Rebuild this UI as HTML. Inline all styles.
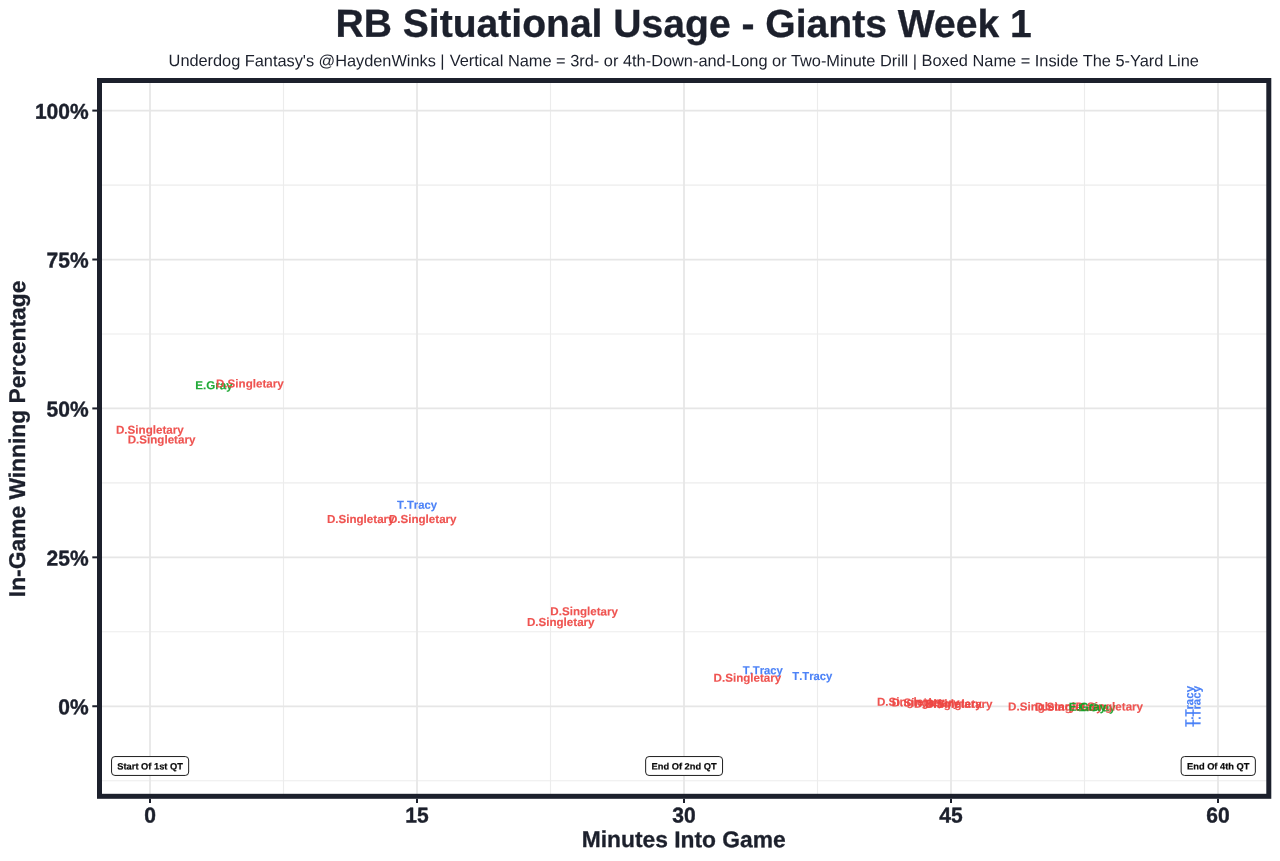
<!DOCTYPE html>
<html lang="en">
<head>
<meta charset="utf-8">
<title>RB Situational Usage - Giants Week 1</title>
<style>
html,body{margin:0;padding:0;background:#ffffff;}
body{width:1280px;height:861px;overflow:hidden;font-family:"Liberation Sans",Arial,Helvetica,sans-serif;}
svg{display:block;}
text{white-space:pre;text-rendering:geometricPrecision;}
</style>
</head>
<body>
<svg width="1280" height="861" viewBox="0 0 1280 861" font-family="'Liberation Sans', Arial, Helvetica, sans-serif">
<rect x="0" y="0" width="1280" height="861" fill="#ffffff"/>
<g stroke="#ececec" stroke-width="1.15"><line x1="283.50" x2="283.50" y1="80.5" y2="796.3"/><line x1="550.50" x2="550.50" y1="80.5" y2="796.3"/><line x1="817.50" x2="817.50" y1="80.5" y2="796.3"/><line x1="1084.50" x2="1084.50" y1="80.5" y2="796.3"/><line y1="780.71" y2="780.71" x1="99.5" x2="1268.8"/><line y1="631.79" y2="631.79" x1="99.5" x2="1268.8"/><line y1="482.88" y2="482.88" x1="99.5" x2="1268.8"/><line y1="333.97" y2="333.97" x1="99.5" x2="1268.8"/><line y1="185.06" y2="185.06" x1="99.5" x2="1268.8"/></g>
<g stroke="#e6e6e6" stroke-width="1.75"><line x1="150.00" x2="150.00" y1="80.5" y2="796.3"/><line x1="417.00" x2="417.00" y1="80.5" y2="796.3"/><line x1="684.00" x2="684.00" y1="80.5" y2="796.3"/><line x1="951.00" x2="951.00" y1="80.5" y2="796.3"/><line x1="1218.00" x2="1218.00" y1="80.5" y2="796.3"/><line y1="706.25" y2="706.25" x1="99.5" x2="1268.8"/><line y1="557.34" y2="557.34" x1="99.5" x2="1268.8"/><line y1="408.43" y2="408.43" x1="99.5" x2="1268.8"/><line y1="259.51" y2="259.51" x1="99.5" x2="1268.8"/><line y1="110.60" y2="110.60" x1="99.5" x2="1268.8"/></g>
<g font-size="11.6" font-weight="700" fill-opacity="0.93" stroke-opacity="0.93" stroke-width="0.12"><text transform="translate(195.25 389.15) rotate(0.03)" fill="#10a428" stroke="#10a428">E.Gray</text><text transform="translate(216.00 387.55) rotate(0.03)" fill="#ee4744" stroke="#ee4744">D.Singletary</text><text transform="translate(116.00 433.80) rotate(0.03)" fill="#ee4744" stroke="#ee4744">D.Singletary</text><text transform="translate(127.70 443.45) rotate(0.03)" fill="#ee4744" stroke="#ee4744">D.Singletary</text><text transform="translate(396.95 508.65) rotate(0.03) scale(0.972 1.0)" fill="#3f7af6" stroke="#3f7af6" style="font-kerning:none">T.Tracy</text><text transform="translate(326.90 523.05) rotate(0.03)" fill="#ee4744" stroke="#ee4744">D.Singletary</text><text transform="translate(388.90 523.05) rotate(0.03)" fill="#ee4744" stroke="#ee4744">D.Singletary</text><text transform="translate(550.35 615.35) rotate(0.03)" fill="#ee4744" stroke="#ee4744">D.Singletary</text><text transform="translate(526.90 625.95) rotate(0.03)" fill="#ee4744" stroke="#ee4744">D.Singletary</text><text transform="translate(742.75 674.25) rotate(0.03) scale(0.972 1.0)" fill="#3f7af6" stroke="#3f7af6" style="font-kerning:none">T.Tracy</text><text transform="translate(713.60 681.75) rotate(0.03)" fill="#ee4744" stroke="#ee4744">D.Singletary</text><text transform="translate(792.25 680.05) rotate(0.03) scale(0.972 1.0)" fill="#3f7af6" stroke="#3f7af6" style="font-kerning:none">T.Tracy</text><text transform="translate(876.90 705.65) rotate(0.03)" fill="#ee4744" stroke="#ee4744">D.Singletary</text><text transform="translate(891.85 706.45) rotate(0.03)" fill="#ee4744" stroke="#ee4744">D.Singletary</text><text transform="translate(914.10 707.65) rotate(0.03)" fill="#ee4744" stroke="#ee4744">D.Singletary</text><text transform="translate(924.90 707.85) rotate(0.03)" fill="#ee4744" stroke="#ee4744">D.Singletary</text><text transform="translate(1008.10 710.55) rotate(0.03)" fill="#ee4744" stroke="#ee4744">D.Singletary</text><text transform="translate(1035.00 710.75) rotate(0.03)" fill="#ee4744" stroke="#ee4744">D.Singletary</text><text transform="translate(1078.15 711.15) rotate(0.03)" fill="#10a428" stroke="#10a428">E.Gray</text><text transform="translate(1075.40 710.55) rotate(0.03)" fill="#ee4744" stroke="#ee4744">D.Singletary</text><text transform="translate(1068.85 710.85) rotate(0.03)" fill="#10a428" stroke="#10a428">E.Gray</text></g>
<g font-size="11.6" font-weight="700" fill-opacity="0.93" stroke-opacity="0.93" stroke-width="0.12"><text transform="translate(1193.3 706.4) rotate(-89.97) scale(0.99 1.0)" text-anchor="middle" fill="#3f7af6" stroke="#3f7af6" style="font-kerning:none">T.Tracy</text><text transform="translate(1200.5 706.4) rotate(-89.97) scale(0.99 1.0)" text-anchor="middle" fill="#3f7af6" stroke="#3f7af6" style="font-kerning:none">T.Tracy</text></g>
<rect x="111.55" y="756.55" width="77.10" height="18.9" rx="3.4" ry="3.4" fill="#ffffff" stroke="#1e1e1e" stroke-width="1.0"/><text transform="translate(150.10 769.55) rotate(0.03)" text-anchor="middle" font-size="9.3" font-weight="700" fill="#0a0a0a" stroke="#0a0a0a" stroke-width="0.2">Start Of 1st QT</text><rect x="645.65" y="756.55" width="76.90" height="18.9" rx="3.4" ry="3.4" fill="#ffffff" stroke="#1e1e1e" stroke-width="1.0"/><text transform="translate(684.10 769.55) rotate(0.03)" text-anchor="middle" font-size="9.3" font-weight="700" fill="#0a0a0a" stroke="#0a0a0a" stroke-width="0.2">End Of 2nd QT</text><rect x="1181.15" y="756.55" width="74.20" height="18.9" rx="3.4" ry="3.4" fill="#ffffff" stroke="#1e1e1e" stroke-width="1.0"/><text transform="translate(1218.25 769.55) rotate(0.03)" text-anchor="middle" font-size="9.3" font-weight="700" fill="#0a0a0a" stroke="#0a0a0a" stroke-width="0.2">End Of 4th QT</text>
<rect x="99.5" y="80.5" width="1169.3" height="715.8" fill="none" stroke="#1c202c" stroke-width="5"/>
<g stroke="#1c202c" stroke-width="2"><line x1="150.00" x2="150.00" y1="798.8" y2="802.9"/><line x1="417.00" x2="417.00" y1="798.8" y2="802.9"/><line x1="684.00" x2="684.00" y1="798.8" y2="802.9"/><line x1="951.00" x2="951.00" y1="798.8" y2="802.9"/><line x1="1218.00" x2="1218.00" y1="798.8" y2="802.9"/><line y1="706.25" y2="706.25" x1="97.0" x2="92.3"/><line y1="557.34" y2="557.34" x1="97.0" x2="92.3"/><line y1="408.43" y2="408.43" x1="97.0" x2="92.3"/><line y1="259.51" y2="259.51" x1="97.0" x2="92.3"/><line y1="110.60" y2="110.60" x1="97.0" x2="92.3"/></g>
<g font-size="21" font-weight="700" fill="#1c202c" stroke="#1c202c" stroke-width="0.4" stroke-linejoin="round"><text transform="translate(150.00 822.40) rotate(0.03) scale(1 1.02)" text-anchor="middle">0</text><text transform="translate(417.00 822.40) rotate(0.03) scale(1 1.02)" text-anchor="middle">15</text><text transform="translate(684.00 822.40) rotate(0.03) scale(1 1.02)" text-anchor="middle">30</text><text transform="translate(951.00 822.40) rotate(0.03) scale(1 1.02)" text-anchor="middle">45</text><text transform="translate(1218.00 822.40) rotate(0.03) scale(1 1.02)" text-anchor="middle">60</text><text transform="translate(88.60 714.35) rotate(0.03) scale(1 1.02)" text-anchor="end">0%</text><text transform="translate(88.60 565.44) rotate(0.03) scale(1 1.02)" text-anchor="end">25%</text><text transform="translate(88.60 416.53) rotate(0.03) scale(1 1.02)" text-anchor="end">50%</text><text transform="translate(88.60 267.61) rotate(0.03) scale(1 1.02)" text-anchor="end">75%</text><text transform="translate(88.60 118.70) rotate(0.03) scale(1 1.02)" text-anchor="end">100%</text></g>
<text transform="translate(683.70 847.15) rotate(0.03)" text-anchor="middle" font-size="22.8" font-weight="700" fill="#1c202c" stroke="#1c202c" stroke-width="0.3">Minutes Into Game</text>
<text transform="translate(25.10 438.90) rotate(-89.97)" text-anchor="middle" font-size="22.8" font-weight="700" fill="#1c202c" stroke="#1c202c" stroke-width="0.3">In-Game Winning Percentage</text>
<text transform="translate(683.60 36.90) rotate(0.03)" text-anchor="middle" font-size="39.08" font-weight="700" fill="#1c202c" stroke="#1c202c" stroke-width="0.3">RB Situational Usage - Giants Week 1</text>
<g font-size="16.385" fill="#1c202c"><text transform="translate(168.60 66.10) rotate(0.03)" textLength="276.0" lengthAdjust="spacing">Underdog Fantasy's @HaydenWinks |</text><text transform="translate(449.70 66.10) rotate(0.03)" textLength="467.3" lengthAdjust="spacing">Vertical Name = 3rd- or 4th-Down-and-Long or Two-Minute Drill |</text><text transform="translate(921.50 66.10) rotate(0.03)" textLength="277.4" lengthAdjust="spacing">Boxed Name = Inside The 5-Yard Line</text></g>
</svg>
</body>
</html>
